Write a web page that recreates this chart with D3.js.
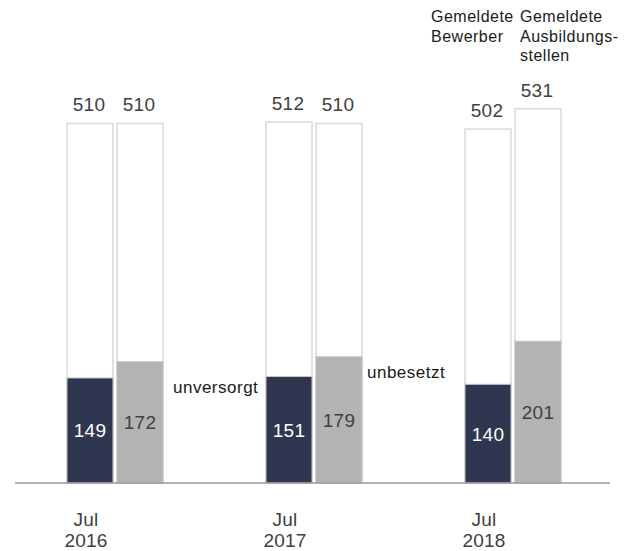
<!DOCTYPE html>
<html lang="de">
<head>
<meta charset="UTF-8">
<title>Bewerber und Ausbildungsstellen</title>
<script src="https://d3js.org/d3.v7.min.js"></script>
<style>
  body { margin: 0; background: #fff; font-family: "Liberation Sans", Arial, sans-serif; }
  .num { font-size: 19px; fill: #404040; letter-spacing: 0.3px; }
  .inner { font-size: 19px; letter-spacing: 0.3px; }
  .note { font-size: 17px; fill: #1a1a1a; letter-spacing: 0.5px; }
  .head { font-size: 16px; fill: #1a1a1a; letter-spacing: 0.5px; }
  .date { font-size: 19px; fill: #404040; letter-spacing: 0.2px; }
</style>
</head>
<body>
<svg id="chart" width="634" height="551"></svg>
<script>
// Data
const periods = ["Jul 2016", "Jul 2017", "Jul 2018"];
const series = ["Gemeldete Bewerber", "Gemeldete Ausbildungsstellen"];
const totals = {
  "Gemeldete Bewerber": [510, 512, 502],
  "Gemeldete Ausbildungsstellen": [510, 510, 531]
};
const open = {
  "Gemeldete Bewerber": [149, 151, 140],          // unversorgt
  "Gemeldete Ausbildungsstellen": [172, 179, 201] // unbesetzt
};
const headerLines = [["Gemeldete", "Bewerber"], ["Gemeldete", "Ausbildungs-", "stellen"]];

const fills = ["#2e374f", "#b3b3b3"];
const innerText = ["#ffffff", "#404040"];

const svg = d3.select("#chart");
const base = 483;

const x0 = d3.scaleBand().domain(periods).range([15.5, 612.5]).paddingInner(0);
const x1 = d3.scaleBand().domain(series).range([0, 96]).paddingInner(0.08);
const y = d3.scaleLinear().domain([0, 600]).range([base, base - 0.705 * 600]);

const off = (x0.bandwidth() - 96) / 2;
const barX = (p, s) => x0(p) + off + x1(s);

const rows = [];
periods.forEach((p, i) => series.forEach((s, j) => {
  rows.push({ p, s, j, total: totals[s][i], open: open[s][i] });
}));

const g = svg.append("g");

// total outline boxes
g.selectAll("rect.total").data(rows).join("rect")
  .attr("class", "total")
  .attr("x", d => barX(d.p, d.s))
  .attr("width", x1.bandwidth())
  .attr("y", d => y(d.total))
  .attr("height", d => base - y(d.total))
  .attr("fill", "#fff")
  .attr("stroke", "#d9d9d9")
  .attr("stroke-width", 1.5);

// open portion
g.selectAll("rect.open").data(rows).join("rect")
  .attr("class", "open")
  .attr("x", d => barX(d.p, d.s))
  .attr("width", x1.bandwidth())
  .attr("y", d => y(d.open))
  .attr("height", d => base - y(d.open))
  .attr("fill", d => fills[d.j])
  .attr("stroke", d => d.j === 0 ? "#c8c8c8" : "#c2c2c2")
  .attr("stroke-width", 1);

// total labels
g.selectAll("text.tot").data(rows).join("text")
  .attr("class", "num")
  .attr("x", d => barX(d.p, d.s) + x1.bandwidth() / 2 - 1)
  .attr("y", d => y(d.total) - 12)
  .attr("text-anchor", "middle")
  .text(d => d.total);

// inner labels
g.selectAll("text.in").data(rows).join("text")
  .attr("class", "inner")
  .attr("x", d => barX(d.p, d.s) + x1.bandwidth() / 2)
  .attr("y", d => (y(d.open) + base) / 2 + 7)
  .attr("text-anchor", "middle")
  .attr("fill", d => innerText[d.j])
  .text(d => d.open);

// baseline
svg.append("line")
  .attr("x1", 15).attr("x2", 610)
  .attr("y1", base).attr("y2", base)
  .attr("stroke", "#9a9a9a")
  .attr("stroke-width", 1.5);

// period labels
periods.forEach(p => {
  const cx = barX(p, series[0]) + x1.bandwidth() / 2 - 4;
  const parts = p.split(" ");
  const t = svg.append("text").attr("class", "date").attr("text-anchor", "middle");
  t.append("tspan").attr("x", cx).attr("y", 526).text(parts[0]);
  t.append("tspan").attr("x", cx).attr("y", 546.5).text(parts[1]);
});

// annotations
svg.append("text").attr("class", "note")
  .attr("x", barX(periods[0], series[1]) + x1.bandwidth() + 10)
  .attr("y", y(open[series[0]][1]) + 16)
  .text("unversorgt");
svg.append("text").attr("class", "note")
  .attr("x", barX(periods[1], series[1]) + x1.bandwidth() + 5)
  .attr("y", y(open[series[1]][1]) + 21)
  .text("unbesetzt");

// series headers above last group
const last = periods[periods.length - 1];
headerLines.forEach((lines, j) => {
  const lx = j === 0 ? barX(last, series[0]) - 34 : barX(last, series[1]) + 5;
  const t = svg.append("text").attr("class", "head");
  lines.forEach((l, k) => t.append("tspan").attr("x", lx).attr("y", 22 + k * 19.5).text(l));
});
</script>
</body>
</html>
